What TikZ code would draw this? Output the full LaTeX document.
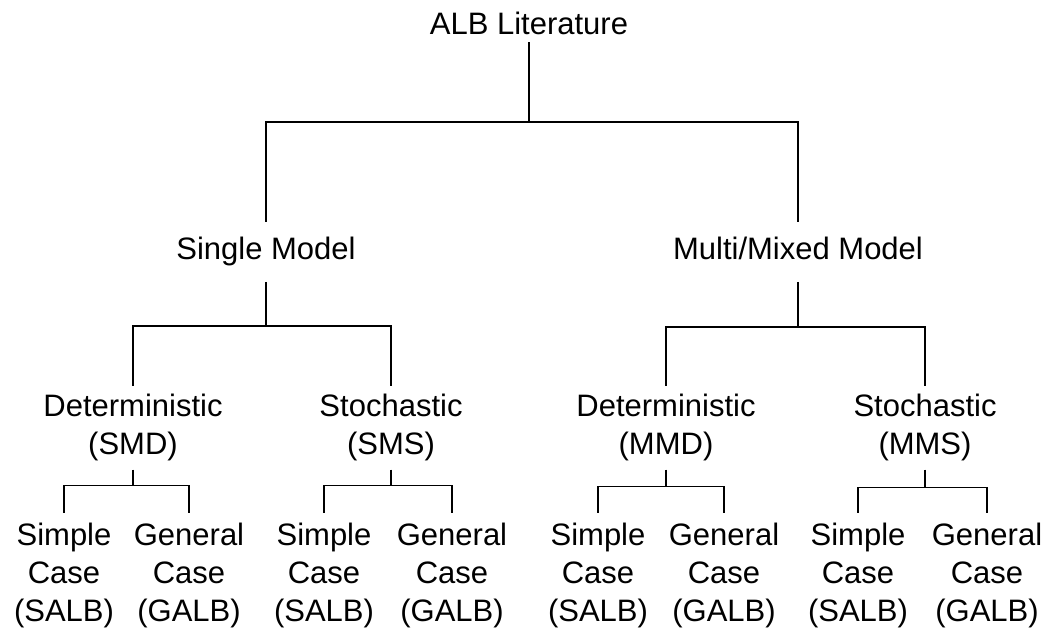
\documentclass[tikz,border=0pt]{standalone}
\usepackage{fontspec}
\setmainfont{Liberation Sans}

\begin{document}
\begin{tikzpicture}[
        x=0.5pt, y=-0.5pt,
        font=\fontsize{15.5}{19}\selectfont,
        every node/.style={align=center, inner xsep=0pt},
        top/.style={inner ysep=3.5pt},
        model/.style={inner ysep=7.5pt, text height=11.2pt, text depth=3.3pt},
        kind/.style={inner ysep=4pt},
        leaf/.style={inner ysep=5pt},
        link/.style={line width=0.7pt},
    ]
        \useasboundingbox (0,0) rectangle (1043,629);

        % --- Root ---
        \node[top, anchor=south] (root) at (529,42) {ALB Literature};

        % --- Row 1: model type ---
        \node[model, anchor=north] (single) at (266,222) {Single Model};
        \node[model, anchor=north] (multi) at (798,222) {Multi/Mixed Model};

        % --- Row 2: deterministic / stochastic ---
        \node[kind, anchor=north] (smd) at (133,386) {Deterministic\\(SMD)};
        \node[kind, anchor=north] (sms) at (391,386) {Stochastic\\(SMS)};
        \node[kind, anchor=north] (mmd) at (666,386) {Deterministic\\(MMD)};
        \node[kind, anchor=north] (mms) at (925,386) {Stochastic\\(MMS)};

        % --- Row 3: simple / general case ---
        \node[leaf, anchor=north] (smdS) at (64,513) {Simple\\Case\\(SALB)};
        \node[leaf, anchor=north] (smdG) at (189,513) {General\\Case\\(GALB)};
        \node[leaf, anchor=north] (smsS) at (324,513) {Simple\\Case\\(SALB)};
        \node[leaf, anchor=north] (smsG) at (452,513) {General\\Case\\(GALB)};
        \node[leaf, anchor=north] (mmdS) at (598,513) {Simple\\Case\\(SALB)};
        \node[leaf, anchor=north] (mmdG) at (724,513) {General\\Case\\(GALB)};
        \node[leaf, anchor=north] (mmsS) at (858,513) {Simple\\Case\\(SALB)};
        \node[leaf, anchor=north] (mmsG) at (987,513) {General\\Case\\(GALB)};

        % --- Root -> models ---
        \draw[link] (root.south) -- ++(0,80) -| (single.north);
        \draw[link] (root.south) ++(0,80) -| (multi.north);

        % --- Models -> kinds ---
        \draw[link] (single.south) -- ++(0,44) -| (smd.north);
        \draw[link] (single.south) ++(0,44) -| (sms.north);
        \draw[link] (multi.south) -- ++(0,45) -| (mmd.north);
        \draw[link] (multi.south) ++(0,45) -| (mms.north);

        % --- Kinds -> cases ---
        \draw[link] (smd.south) -- ++(0,16) -| (smdS.north);
        \draw[link] (smd.south) ++(0,16) -| (smdG.north);
        \draw[link] (sms.south) -- ++(0,16) -| (smsS.north);
        \draw[link] (sms.south) ++(0,16) -| (smsG.north);
        \draw[link] (mmd.south) -- ++(0,17) -| (mmdS.north);
        \draw[link] (mmd.south) ++(0,17) -| (mmdG.north);
        \draw[link] (mms.south) -- ++(0,18) -| (mmsS.north);
        \draw[link] (mms.south) ++(0,18) -| (mmsG.north);

    \end{tikzpicture}
\end{document}
